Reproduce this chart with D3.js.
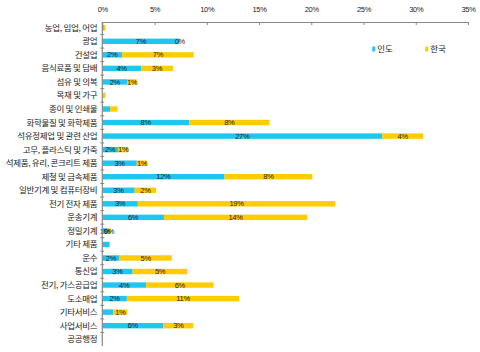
<!DOCTYPE html>
<html><head><meta charset="utf-8">
<script src="https://cdn.jsdelivr.net/npm/d3@7"></script>
<style>
html,body{margin:0;padding:0;background:#fff;}
svg{display:block;}
</style></head>
<body>
<svg id="chart" width="480" height="352"></svg>
<script>
const categories = ["농업, 임업, 어업","광업","건설업","음식료품 및 담배","섬유 및 의복","목재 및 가구","종이 및 인쇄물","화학물질 및 화학제품","석유정제업 및 관련 산업","고무, 플라스틱 및 가죽","석제품, 유리, 콘크리트 제품","제철 및 금속제품","일반기계 및 컴퓨터장비","전기 전자 제품","운송기계","정밀기계","기타 제품","운수","통신업","전기, 가스공급업","도소매업","기타서비스","사업서비스","공공행정"];
const seriesNames = ["인도","한국"];
const india = [0.15, 7.4, 1.9, 3.7, 2.4, 0.05, 0.75, 8.3, 26.8, 1.5, 3.3, 11.7, 3.1, 3.4, 5.9, 0.5, 0.7, 1.65, 2.9, 4.2, 2.35, 1.05, 5.85, 0];
const korea = [0.15, 0.05, 6.85, 3.05, 0.9, 0.25, 0.7, 7.7, 3.9, 1.0, 1.0, 8.4, 2.05, 18.9, 13.7, 0.3, 0, 5.0, 5.25, 6.45, 10.75, 1.35, 2.85, 0];
const indiaLabels = ["","7%","2%","4%","2%","","","8%","27%","2%","3%","12%","3%","3%","6%","1%","","2%","3%","4%","2%","","6%",""];
const koreaLabels = ["","0%","7%","3%","1%","","","8%","4%","1%","1%","8%","2%","19%","14%","0%","","5%","5%","6%","11%","1%","3%",""];
const tickValues = [0,5,10,15,20,25,30,35];

const colors = ["#1EC6F0","#FFCC00"];
const svg = d3.select("#chart");
const x = d3.scaleLinear().domain([0,35]).range([102.3,468]);
const y = d3.scaleBand().domain(categories).range([21,346]).paddingInner(0.6).paddingOuter(0.3);
const step = y.step();

const rows = categories.map((c,i)=>({c, vals:[india[i],korea[i]], labs:[indiaLabels[i],koreaLabels[i]]}));
const segs = [];
rows.forEach(r=>{ let acc=0; r.vals.forEach((v,k)=>{ segs.push({c:r.c,k,x0:acc,x1:acc+v,lab:r.labs[k]}); acc+=v; }); });

// bars
svg.append("g").selectAll("rect").data(segs).join("rect")
  .attr("x",d=>x(d.x0)).attr("width",d=>Math.max(0,x(d.x1)-x(d.x0)))
  .attr("y",d=>y(d.c)).attr("height",y.bandwidth())
  .attr("fill",d=>colors[d.k]);

// data labels
svg.append("g").selectAll("text").data(segs.filter(d=>d.lab)).join("text")
  .attr("x",d=>(x(d.x0)+x(d.x1))/2).attr("y",d=>y(d.c)+y.bandwidth()/2)
  .attr("dy","0.35em").attr("text-anchor","middle")
  .attr("font-family","Liberation Sans, Arial, sans-serif").attr("font-size","7.5px")
  .attr("letter-spacing","-0.3px").attr("fill","#222").text(d=>d.lab);

// top axis
const ax = d3.axisTop(x).tickValues(tickValues).tickFormat(d=>d+"%").tickSizeInner(-3).tickSizeOuter(0).tickPadding(10);
const gx = svg.append("g").attr("transform","translate(0,22)").call(ax);
gx.select(".domain").attr("stroke","#888");
gx.selectAll(".tick line").attr("stroke","#888");
gx.selectAll("text").attr("font-family","Liberation Sans, Arial, sans-serif").attr("font-size","7.5px").attr("letter-spacing","-0.3px").attr("fill","#222");

// left axis
const gy = svg.append("g");
gy.append("line").attr("x1",x(0)).attr("x2",x(0)).attr("y1",22).attr("y2",346).attr("stroke","#888").attr("stroke-width",1.2);
gy.selectAll("line.t").data(categories.slice(1)).join("line").attr("class","t")
  .attr("x1",x(0)-2).attr("x2",x(0)+2)
  .attr("y1",d=>y(d)+y.bandwidth()/2-step/2).attr("y2",d=>y(d)+y.bandwidth()/2-step/2)
  .attr("stroke","#888");
gy.selectAll("text").data(categories).join("text")
  .attr("x",x(0)-5).attr("y",d=>y(d)+y.bandwidth()/2).attr("dy","0.35em")
  .attr("text-anchor","end").attr("font-family","Noto Sans CJK KR, sans-serif")
  .attr("font-size","8.5px").attr("letter-spacing","-0.3px").attr("fill","#222").text(d=>d);

// legend
const legX = [372.3, 425.3];
const lg = svg.append("g").selectAll("g").data(seriesNames).join("g")
  .attr("transform",(d,i)=>`translate(${legX[i]},49)`);
lg.append("rect").attr("x",0).attr("y",-2.5).attr("width",3).attr("height",5).attr("fill",(d,i)=>colors[i]);
lg.append("text").attr("x",5).attr("dy","0.35em").attr("font-family","Noto Sans CJK KR, sans-serif")
  .attr("font-size","8.5px").attr("fill","#222").text(d=>d);
</script>
</body></html>
